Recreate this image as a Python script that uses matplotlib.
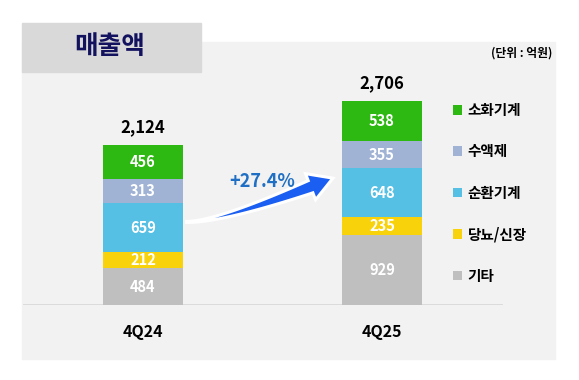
import numpy as np
import matplotlib
matplotlib.use("Agg")
import matplotlib.pyplot as plt
from matplotlib.patches import Rectangle, Patch, Polygon
from matplotlib.transforms import IdentityTransform

plt.rcParams["font.family"] = ["Noto Sans CJK KR", "DejaVu Sans"]

# data
quarters = ["4Q24", "4Q25"]
segments = ["기타", "당뇨/신장", "순환기계", "수액제", "소화기계"]
values = {
    "기타": [484, 929],
    "당뇨/신장": [212, 235],
    "순환기계": [659, 648],
    "수액제": [313, 355],
    "소화기계": [456, 538],
}
totals = [2124, 2706]
growth_label = "+27.4%"
colors = {
    "기타": "#bfbfbf",
    "당뇨/신장": "#f8d20a",
    "순환기계": "#55bfe4",
    "수액제": "#a0b3d5",
    "소화기계": "#2eb812",
}

W, H = 579, 380
fig = plt.figure(figsize=(W / 100, H / 100), dpi=100)
fig.patch.set_facecolor("white")

# background panel + title box
fig.patches.append(Rectangle((22 / W, 21 / H), 533 / W, 317 / H,
                             transform=fig.transFigure, color="#f2f2f2", zorder=-2))
fig.patches.append(Rectangle((22 / W, (H - 72) / H), 179 / W, 49 / H,
                             transform=fig.transFigure, color="#d9d9d9", zorder=-1))
fig.text(110 / W, (H - 47) / H, "매출액", ha="center", va="center",
         fontsize=18.5, fontweight="bold", color="#12125e", zorder=3)
fig.text(552 / W, (H - 53) / H, "(단위 : 억원)", ha="right", va="center",
         fontsize=8.5, fontweight="bold", color="black")

ax = fig.add_axes([22 / W, (H - 305) / H, 533 / W, 263 / H])
ax.set_zorder(2)
ax.set_facecolor("none")
for s in ax.spines.values():
    s.set_visible(False)

x = np.arange(len(quarters))
bw = 0.335
bottom = np.zeros(len(quarters))
for seg in segments:
    v = np.array(values[seg])
    ax.bar(x, v, bw, bottom=bottom, color=colors[seg], zorder=3)
    for xi, b, vi in zip(x, bottom, v):
        ax.text(xi, b + vi / 2, f"{vi:,}", ha="center", va="center",
                fontsize=10.5, fontweight="bold", color="white", zorder=4)
    bottom += v

for xi, t in zip(x, totals):
    ax.annotate(f"{t:,}", (xi, t), xytext=(0, 12.5), textcoords="offset points",
                ha="center", va="center", fontsize=12, fontweight="bold")

ax.set_xlim(-0.506, 1.724)
ax.set_ylim(0, 3483)
ax.axhline(0, xmin=0.004, xmax=0.90, color="#d9d9d9", lw=1.3, zorder=2)
ax.set_xticks(x, quarters)
ax.tick_params(axis="x", length=0, pad=14, labelsize=11.5)
for lbl in ax.get_xticklabels():
    lbl.set_fontweight("bold")
ax.set_yticks([])

# curved growth arrow (built in pixels from data anchors)
fig.canvas.draw()
p0 = ax.transData.transform((0.183, 1100))
tip = ax.transData.transform((0.795, 1680))
theta = np.radians(21)
d = np.array([np.cos(theta), np.sin(theta)])
head_len, head_w = 24, 28
pe = tip - head_len * d
s = (pe[1] - p0[1]) / d[1]
p1 = pe - s * d
t = np.linspace(0, 1, 60)
curve = ((1 - t) ** 2)[:, None] * p0 + (2 * (1 - t) * t)[:, None] * p1 + (t ** 2)[:, None] * pe
tang = np.gradient(curve, axis=0)
tang /= np.linalg.norm(tang, axis=1)[:, None]
norm = np.stack([-tang[:, 1], tang[:, 0]], axis=1)
half = 0.5 + 6.0 * t ** 1.6
upper = curve + norm * half[:, None]
lower = curve - norm * half[:, None]
nvec = np.array([-d[1], d[0]])
head = [pe + nvec * head_w / 2, tip, pe - nvec * head_w / 2]
pts = np.vstack([upper, head, lower[::-1]])
ax.add_patch(Polygon(pts, closed=True, transform=IdentityTransform(),
                     facecolor="#1a5ef2", edgecolor="white", lw=2.2, zorder=5))
ax.text(0.5, 1630, growth_label, ha="center", va="center", fontsize=13,
        fontweight="bold", color="#1f6fc4", zorder=6)

# legend
handles = [Patch(facecolor=colors[s_], edgecolor="none") for s_ in segments[::-1]]
fig.legend(handles, segments[::-1], loc="upper left",
           bbox_to_anchor=(453 / W, (H - 102) / H), frameon=False,
           handlelength=0.65, handleheight=0.65, handletextpad=0.35,
           labelspacing=1.74, borderpad=0, borderaxespad=0,
           prop={"size": 10.5, "weight": "bold"})

fig.savefig("out.png", dpi=100)
